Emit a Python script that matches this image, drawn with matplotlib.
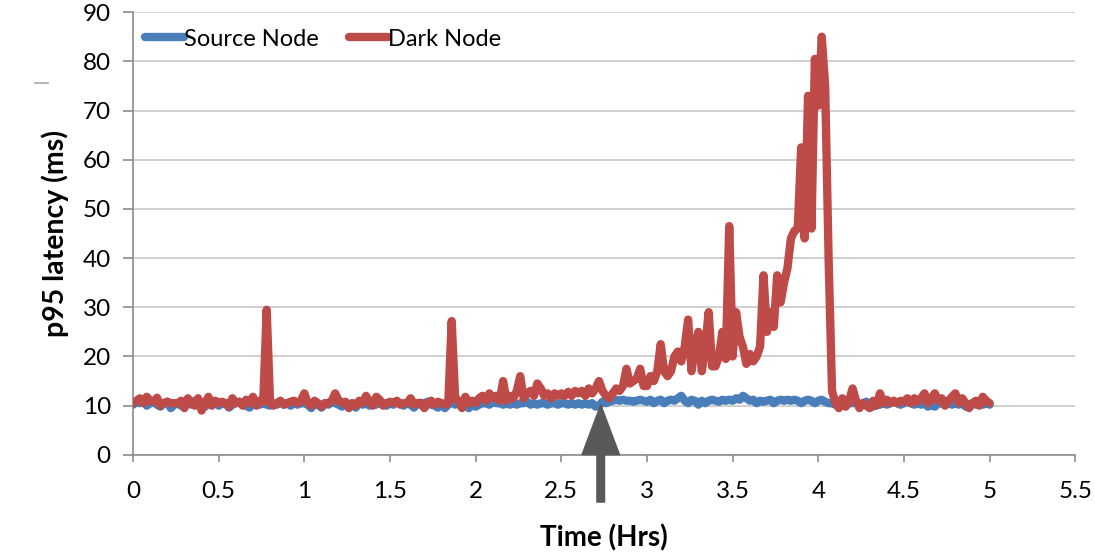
import numpy as np
import matplotlib
matplotlib.use("Agg")
import matplotlib.pyplot as plt
from matplotlib.ticker import FuncFormatter
from matplotlib.lines import Line2D

plt.rcParams["font.family"] = ["Lato", "DejaVu Sans"]

# one sample every 0.02 hrs, 0 .. 5 hrs
time_hrs = np.linspace(0, 5, 251)

source_node = [
    10.2, 10.8, 10.5, 11.2, 10, 10.5, 11, 10.2, 9.8, 10.5,
    10.8, 9.5, 10.2, 10.5, 10, 10.8, 10.5, 10.2, 11, 10.5,
    10.2, 9.8, 10.5, 10.2, 10.8, 10, 10.5, 10.5, 9.6, 10.2,
    10.5, 10.8, 10.2, 10, 9.6, 10.5, 10.8, 10.2, 10.5, 10.2,
    10, 10.5, 10.2, 10.8, 10.2, 10.5, 10, 10.8, 10.2, 10.5,
    10.5, 10.2, 9.5, 10.5, 10.2, 9.6, 10.5, 10.2, 10.8, 10.5,
    10.2, 9.8, 10.5, 10.2, 10.5, 9.6, 10.8, 10.2, 10.5, 10,
    10.5, 10.2, 10.8, 10.5, 10, 10.5, 10.2, 10.8, 10.5, 10,
    10.5, 10.2, 9.6, 10.5, 10.2, 10.5, 10.8, 10.2, 10, 9.6,
    10.5, 9.5, 10.2, 10.8, 10.2, 10.5, 10, 10.2, 9.5, 10.2,
    9.8, 10.2, 10.5, 10.5, 10.2, 10.8, 10.5, 10.5, 10.2, 10.5,
    10.2, 10.5, 10.2, 10.5, 10.5, 10.8, 10.2, 10.5, 10.2, 10.5,
    10.5, 10.2, 10.5, 10.5, 10.2, 10.5, 10.5, 10.2, 10.5, 10.2,
    10.5, 10.2, 10.5, 10.2, 10.5, 9.8, 10, 10.8, 10.5, 10.8,
    11, 11.2, 11, 11.2, 11, 11, 10.8, 11, 11.2, 11,
    10.8, 11.2, 10.5, 11, 11.2, 10.5, 11, 11.2, 11, 11.5,
    12, 11, 10.5, 11.2, 11, 10.2, 11, 10.5, 11, 11.2,
    11, 10.8, 11.2, 11, 11.2, 11, 11.5, 11.2, 12, 11.5,
    11, 11.2, 10.5, 11, 10.8, 11, 11.2, 10.5, 11, 11.2,
    11, 11.2, 11, 11.2, 11, 10.5, 11, 11.2, 11, 10.5,
    11, 11.2, 10.8, 10.5, 10.5, 10.2, 10.5, 10.8, 10.2, 10.5,
    10.5, 10.8, 10.2, 10.5, 10.8, 10.2, 9.8, 10.5, 10.2, 10.5,
    10.2, 10.5, 10.8, 10.5, 10.2, 10.5, 10.8, 10.5, 10.2, 10.5,
    10.2, 10.5, 9.8, 10.2, 9.8, 10.5, 10.5, 10.2, 10.5, 10.2,
    10.5, 10.2, 10.5, 9.8, 10.2, 10.5, 10.2, 10.5, 10.2, 10.5,
    10.2,
]

dark_node = [
    10.5, 11, 11.5, 10.5, 11.8, 11, 10.8, 11.6, 10, 10.5,
    10.8, 10.5, 10.5, 10.5, 11, 9.5, 11.5, 10.5, 10, 11.5,
    9, 10.5, 11.8, 10, 11, 10.5, 10.8, 10.5, 9.8, 11.5,
    10.5, 10.8, 10, 11.2, 10.5, 11.8, 10, 11, 10.8, 29.5,
    10.5, 10, 10.5, 11, 10.2, 10.5, 10.8, 11, 10.5, 11,
    12.5, 10.5, 10, 11, 10.5, 9.8, 10.5, 10.5, 11, 12.5,
    11, 10.5, 10.8, 9.5, 10.5, 10, 11, 10.5, 12, 10.8,
    10, 11.8, 11.2, 10, 10.5, 10.8, 10.5, 11, 10.2, 10.5,
    10.5, 11.5, 10.2, 10.5, 10.6, 9.5, 10.5, 11, 10.2, 10.8,
    10.5, 10.2, 10.5, 27.2, 11.5, 11, 9.5, 11.8, 10.5, 11,
    10.5, 11.5, 12, 11, 12.5, 11.5, 12, 11, 15, 11,
    12, 11.5, 13, 16, 11.5, 12.5, 13, 12, 14.5, 13.5,
    12, 12.5, 11.5, 12.5, 12, 12.5, 12, 12.8, 12, 13,
    12.5, 13, 12, 13.5, 12.5, 13.5, 15, 13, 12, 11.5,
    12.5, 13.5, 13, 14, 17.5, 14.5, 15, 15.5, 17.5, 14,
    14, 16, 15, 17, 22.5, 17, 16, 17, 20, 21,
    19, 22, 27.5, 17, 22, 25, 17, 22, 29, 18,
    18, 20, 25, 19.5, 46.5, 20, 29, 24, 22, 18.5,
    20.5, 19, 20, 22, 36.5, 25, 29, 26, 36.5, 31,
    35, 38, 44, 45.5, 46, 62.5, 44, 73, 46, 80.5,
    71, 85, 75, 40, 13, 10.5, 9.5, 11.5, 9.8, 11,
    13.5, 11, 9.5, 10.5, 10, 9.5, 11, 10, 12.5, 10.5,
    11.2, 10.5, 11, 10.5, 11, 10.8, 11.5, 10.5, 11.5, 10.8,
    11.5, 12.5, 10.5, 11.5, 12.5, 11, 11.5, 10, 11, 11.8,
    12.5, 10.5, 11.5, 10.5, 9.5, 10.5, 11, 10, 11.8, 11,
    10.5,
]

x_ticks = [0, 0.5, 1, 1.5, 2, 2.5, 3, 3.5, 4, 4.5, 5, 5.5]
y_ticks = [0, 10, 20, 30, 40, 50, 60, 70, 80, 90]

# arrow marking the event
arrow_x = 2.73
arrow_tip = 10.2
arrow_tail = -9.6

fig = plt.figure(figsize=(10.95, 5.52), dpi=100)
ax = fig.add_axes([0.1215, 0.176, 0.8605, 0.802])

ax.plot(time_hrs, source_node, color="#4A7EBB", lw=6, solid_joinstyle="round",
        solid_capstyle="round", label="Source Node", zorder=3)
ax.plot(time_hrs, dark_node, color="#BE4B48", lw=6, solid_joinstyle="round",
        solid_capstyle="round", label="Dark Node", zorder=4)

ax.set_xlim(0, 5.5)
ax.set_ylim(0, 90)
ax.set_xticks(x_ticks)
ax.set_yticks(y_ticks)
ax.xaxis.set_major_formatter(FuncFormatter(lambda v, p: ("%g" % v)))
ax.grid(axis="y", color="#C8C8C8", lw=1.2, zorder=0)
ax.set_axisbelow(True)

for s in ["top", "right"]:
    ax.spines[s].set_visible(False)
for s in ["left", "bottom"]:
    ax.spines[s].set_color("#8C8C8C")
    ax.spines[s].set_linewidth(1.2)

ax.tick_params(axis="x", length=5, width=1.2, color="#8C8C8C", pad=14,
               labelsize=17.5, labelcolor="black")
ax.tick_params(axis="y", length=7, width=1.2, color="#8C8C8C", pad=9,
               labelsize=17.5, labelcolor="black")

ax.set_xlabel("Time (Hrs)", fontsize=20, fontweight="bold", labelpad=16)
ax.set_ylabel("p95 latency (ms)", fontsize=20.5, fontweight="bold", labelpad=10)

ax.legend(loc="upper left", bbox_to_anchor=(-0.002, 0.995), frameon=False,
          fontsize=17, handlelength=1.65, handletextpad=0.0,
          columnspacing=1.25, ncol=2, borderaxespad=0.2)

ax.annotate("", xy=(arrow_x, arrow_tip), xytext=(arrow_x, arrow_tail),
            arrowprops=dict(facecolor="#595959", edgecolor="#595959",
                            width=5.5, headwidth=27, headlength=36, shrink=0),
            annotation_clip=False, zorder=6)

# small stray mark left of the axis
fig.add_artist(Line2D([0.032, 0.044], [0.85, 0.85], color="#AAAAAA", lw=1.2))

fig.savefig("out.png", dpi=100)
